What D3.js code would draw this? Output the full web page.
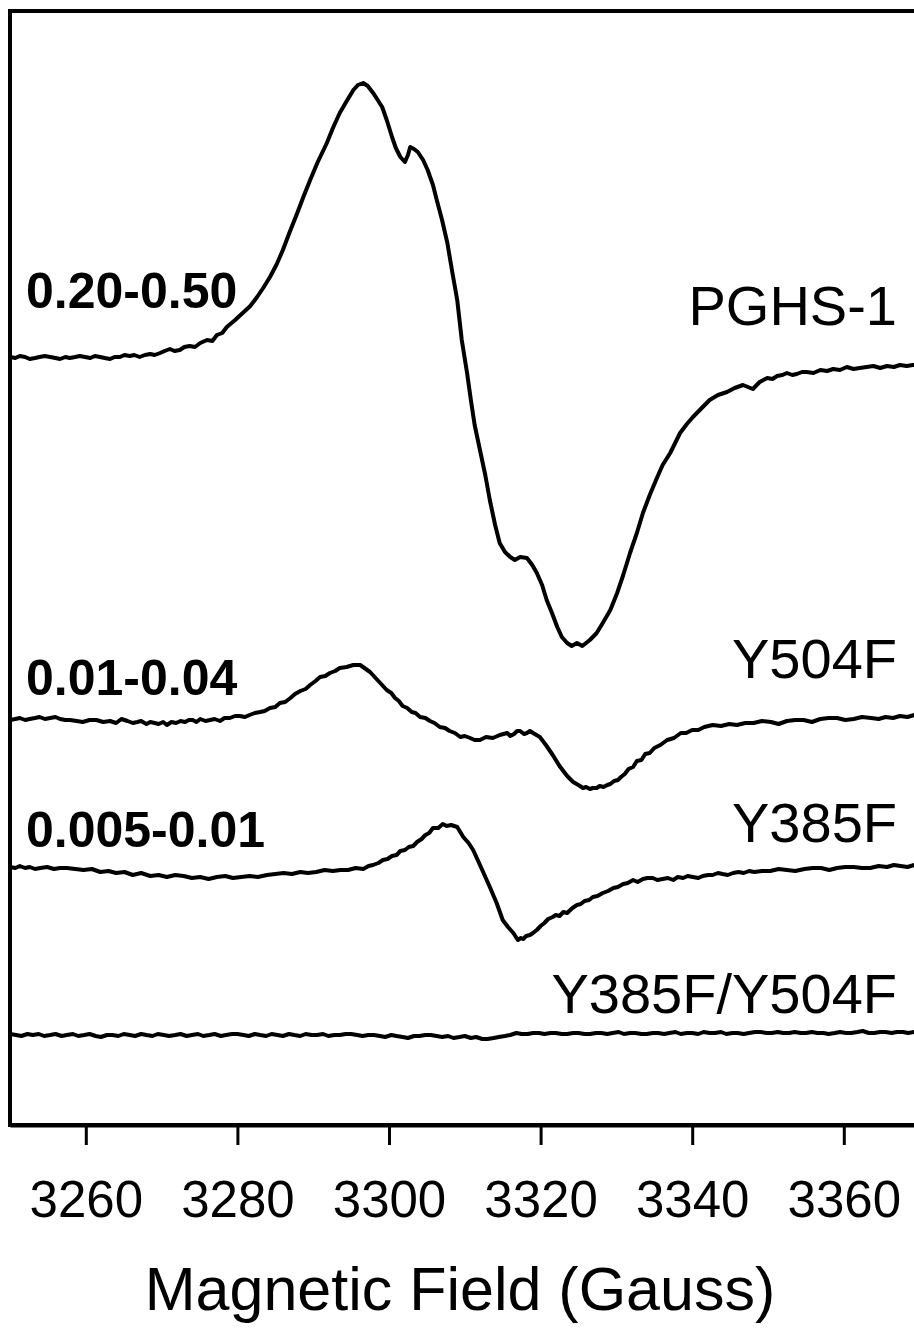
<!DOCTYPE html>
<html>
<head>
<meta charset="utf-8">
<script src="https://cdn.jsdelivr.net/npm/d3@7"></script>
<style>
  body { margin: 0; background: #fff; }
  svg { display: block; }
  text { font-family: "Liberation Sans", Arial, sans-serif; fill: #000; }
</style>
</head>
<body>
<div id="chart"></div>
<script>
// spectra: [field (G), signal (a.u.)]
var pghsData = [
  [3250.0, 0], [3250.7, -1], [3251.3, 1], [3252.0, 0], [3252.6, -2], [3253.3, -1], [3253.9, 0],
  [3254.6, 1], [3255.3, 0], [3256.0, -1], [3256.6, -2], [3257.3, 0], [3257.9, -1], [3258.6, 0],
  [3259.2, 1], [3259.9, 0], [3260.6, -1], [3261.2, 1], [3261.9, 0], [3262.5, -1], [3263.2, -2],
  [3263.8, 0], [3264.5, 0], [3265.1, 2], [3265.8, 1], [3266.4, 2], [3267.1, 0], [3267.8, 2],
  [3268.5, 3], [3269.1, 2], [3269.8, 4], [3270.4, 6], [3271.1, 8], [3271.7, 6], [3272.4, 7],
  [3273.0, 10], [3273.7, 11], [3274.4, 10], [3275.1, 14], [3276.0, 17], [3276.7, 16],
  [3277.3, 22], [3278.0, 24], [3278.6, 30], [3279.7, 37], [3280.7, 44], [3281.7, 51], [3282.6, 60], [3283.4, 69],
  [3284.3, 80], [3285.2, 93], [3286.0, 107], [3286.9, 125], [3287.9, 144], [3288.7, 160],
  [3289.6, 177], [3290.6, 195], [3291.8, 214], [3292.6, 229], [3293.5, 244], [3294.5, 257],
  [3295.3, 267], [3295.9, 272], [3296.6, 274], [3297.2, 271], [3298.0, 263], [3299.1, 250],
  [3299.7, 237], [3300.4, 220], [3300.9, 209], [3301.5, 200], [3302.1, 195], [3302.5, 202],
  [3302.8, 210], [3303.3, 208], [3303.8, 205], [3304.5, 197], [3305.1, 187], [3305.8, 172],
  [3306.3, 157], [3307.0, 137], [3307.7, 114], [3308.3, 87], [3309.0, 57], [3309.6, 17],
  [3310.3, -16], [3310.8, -43], [3311.3, -68], [3312.0, -93], [3312.7, -118], [3313.3, -143],
  [3314.0, -168], [3314.6, -186], [3315.3, -195], [3316.0, -200], [3316.6, -203], [3317.3, -200],
  [3318.2, -201], [3318.9, -208], [3319.5, -216], [3320.2, -228], [3320.8, -243], [3321.5, -256],
  [3322.2, -270], [3322.8, -280], [3323.5, -286], [3324.1, -289], [3324.8, -286], [3325.5, -289],
  [3326.5, -283], [3327.4, -276], [3328.2, -266], [3329.2, -253], [3330.1, -236], [3330.9, -218],
  [3331.8, -196], [3332.7, -176], [3333.5, -156], [3334.4, -138], [3335.4, -120], [3336.1, -108],
  [3337.1, -96], [3338.4, -76], [3339.3, -67], [3340.1, -60], [3341.0, -53], [3342.3, -43],
  [3343.4, -38], [3344.6, -35], [3345.6, -31], [3346.7, -28], [3348.0, -32], [3348.9, -25],
  [3349.9, -21], [3350.6, -22], [3351.2, -19], [3351.9, -18], [3352.5, -16], [3353.2, -18],
  [3353.8, -17], [3354.5, -15], [3355.1, -15], [3356.0, -16], [3356.9, -13], [3357.8, -14],
  [3358.6, -12], [3359.5, -13], [3360.4, -10], [3361.3, -12], [3362.1, -11], [3363.0, -10],
  [3363.9, -9], [3364.8, -11], [3365.7, -9], [3366.6, -10], [3367.4, -8], [3368.3, -9],
  [3369.1, -8], [3370.0, -8]
];

var y504fData = [
  [3250.0, -2], [3250.7, -1], [3251.3, 0], [3252.0, -2], [3252.6, -1], [3253.3, 0], [3253.9, 1],
  [3254.6, -1], [3255.3, 0], [3256.0, 1], [3256.6, -1], [3257.3, -2], [3257.9, -2], [3258.8, -3],
  [3259.6, -4], [3260.5, -2], [3261.4, -2], [3262.3, -4], [3263.2, -3], [3264.0, -5], [3264.7, -1],
  [3265.5, -3], [3266.2, -5], [3266.8, -4], [3267.3, -3], [3268.0, -6], [3268.5, -4], [3269.1, -5],
  [3269.6, -6], [3270.2, -4], [3270.7, -7], [3271.3, -4], [3271.9, -5], [3272.5, -3], [3273.1, -4],
  [3273.6, -2], [3274.1, -2], [3274.6, -4], [3275.1, -1], [3275.8, -3], [3276.4, -2], [3277.0, -1],
  [3277.7, -3], [3278.3, 0], [3279.0, 0], [3279.7, 2], [3280.3, 2], [3281.0, 1], [3281.6, 3],
  [3282.3, 5], [3283.0, 6], [3283.6, 7], [3284.3, 10], [3285.0, 11], [3285.6, 15], [3286.3, 16],
  [3287.0, 20], [3287.6, 24], [3288.3, 27], [3289.0, 29], [3289.6, 33], [3290.3, 37], [3290.9, 41],
  [3291.6, 42], [3292.2, 45], [3292.9, 47], [3293.5, 50], [3294.4, 51], [3295.3, 53], [3296.2, 53],
  [3297.5, 46], [3298.6, 37], [3299.7, 28], [3300.3, 25], [3300.8, 20], [3301.3, 17], [3301.8, 12],
  [3302.4, 10], [3303.0, 6], [3303.5, 5], [3304.1, 1], [3304.8, 0], [3305.4, -3], [3306.0, -5],
  [3306.7, -9], [3307.4, -10], [3308.0, -13], [3308.7, -15], [3309.4, -19], [3310.0, -18],
  [3310.7, -20], [3311.3, -22], [3312.0, -22], [3312.8, -19], [3313.7, -20], [3314.6, -17],
  [3315.6, -15], [3316.0, -18], [3316.5, -16], [3316.9, -13], [3317.3, -13], [3317.8, -16],
  [3318.2, -15], [3318.6, -13], [3319.0, -15], [3319.9, -19], [3320.7, -27], [3321.6, -37],
  [3322.5, -48], [3323.5, -58], [3324.3, -64], [3325.2, -68], [3325.6, -70], [3326.0, -69],
  [3326.5, -71], [3326.9, -70], [3327.4, -70], [3327.8, -68], [3328.3, -69], [3328.8, -67],
  [3329.2, -66], [3329.7, -63], [3330.2, -62], [3330.6, -59], [3331.1, -56], [3331.6, -51],
  [3332.2, -49], [3332.7, -43], [3333.3, -42], [3333.8, -36], [3334.4, -35], [3335.0, -30],
  [3335.8, -27], [3336.7, -22], [3337.6, -20], [3338.5, -15], [3339.2, -15], [3340.0, -12],
  [3340.8, -12], [3341.6, -9], [3342.7, -7], [3343.8, -8], [3344.9, -6], [3345.9, -7],
  [3347.0, -5], [3348.1, -5], [3349.2, -3], [3350.4, -4], [3351.4, -6], [3352.5, -3],
  [3353.6, -2], [3354.7, -2], [3355.8, -4], [3356.9, -1], [3358.0, 0], [3359.1, 0],
  [3360.2, -2], [3361.3, -1], [3362.4, 1], [3363.6, 0], [3364.6, -1], [3365.5, 1],
  [3366.5, 0], [3367.4, 2], [3368.4, 1], [3369.3, 3], [3370.0, 3]
];

var y385fData = [
  [3250.0, 1], [3250.7, 0], [3251.3, 2], [3252.0, 0], [3252.6, 1], [3253.3, -1], [3254.0, 0],
  [3254.9, 1], [3255.8, -1], [3256.6, 0], [3257.5, 0], [3258.6, -1], [3259.7, -2], [3260.8, -1],
  [3261.9, -4], [3263.0, -3], [3264.0, -5], [3265.1, -4], [3266.2, -7], [3267.3, -5], [3268.5, -8],
  [3269.6, -7], [3270.7, -9], [3271.8, -7], [3272.9, -8], [3274.0, -10], [3275.1, -9],
  [3276.2, -11], [3277.3, -9], [3278.4, -8], [3279.4, -10], [3280.5, -9], [3281.6, -8],
  [3282.7, -9], [3283.9, -7], [3285.0, -6], [3286.1, -5], [3287.2, -6], [3288.3, -4],
  [3289.3, -5], [3290.4, -4], [3291.5, -2], [3292.6, -3], [3293.6, -2], [3294.6, -2], [3295.6, 0],
  [3296.6, -1], [3297.3, 2], [3297.9, 3], [3298.6, 5], [3299.2, 8], [3299.8, 9], [3300.4, 12],
  [3301.0, 13], [3301.5, 17], [3302.1, 18], [3302.6, 21], [3303.2, 22], [3303.7, 26], [3304.3, 29],
  [3304.8, 33], [3305.3, 35], [3305.8, 40], [3306.5, 40], [3307.1, 44], [3307.6, 42], [3308.2, 43],
  [3308.6, 42], [3309.0, 41], [3309.8, 31], [3310.5, 25], [3311.1, 18], [3311.7, 8], [3312.3, -2],
  [3313.3, -19], [3314.2, -35], [3315.0, -52], [3315.7, -59], [3316.4, -65], [3317.0, -72],
  [3317.4, -70], [3317.7, -71], [3318.1, -68], [3318.6, -67], [3319.0, -65], [3319.5, -62],
  [3320.0, -58], [3320.5, -55], [3321.0, -51], [3321.6, -49], [3322.0, -47], [3322.5, -48],
  [3323.0, -44], [3323.5, -45], [3324.2, -40], [3324.8, -37], [3325.3, -36], [3325.8, -33],
  [3326.4, -32], [3326.9, -29], [3327.5, -28], [3328.2, -25], [3328.9, -23], [3329.6, -20],
  [3330.2, -19], [3330.9, -16], [3331.5, -15], [3332.2, -12], [3332.8, -14], [3333.5, -11],
  [3334.1, -10], [3334.8, -10], [3335.4, -12], [3336.1, -11], [3336.8, -10], [3337.5, -12],
  [3338.1, -9], [3338.8, -10], [3339.4, -8], [3340.1, -9], [3340.8, -10], [3341.4, -8],
  [3342.1, -7], [3342.7, -7], [3343.4, -5], [3344.0, -6], [3344.7, -7], [3345.4, -5],
  [3346.1, -4], [3346.8, -5], [3347.5, -3], [3348.2, -4], [3349.2, -3], [3350.3, -3],
  [3351.4, -1], [3352.5, -2], [3353.6, -3], [3354.8, -1], [3355.9, 0], [3357.0, 0],
  [3358.1, -2], [3359.1, 0], [3360.2, 1], [3361.3, 1], [3362.4, 0], [3363.5, 0], [3364.6, 2],
  [3365.7, 1], [3366.6, 3], [3367.5, 2], [3368.4, 1], [3369.3, 3], [3370.0, 3]
];

var doubleData = [
  [3250.0, 1], [3250.8, 0], [3251.5, -1], [3252.3, 1], [3253.0, 0], [3253.8, 1], [3254.5, -1],
  [3255.3, 0], [3256.0, 1], [3256.8, -1], [3257.5, 0], [3258.3, 1], [3259.0, -1], [3259.8, 0],
  [3260.5, 1], [3261.3, -1], [3262.0, -2], [3262.8, 0], [3263.5, 0], [3264.3, -1], [3265.0, 1],
  [3265.8, 0], [3266.5, -1], [3267.3, 1], [3268.0, 0], [3268.8, -1], [3269.5, 1], [3270.3, 0],
  [3271.0, -1], [3271.8, 0], [3272.5, 1], [3273.3, -1], [3274.0, 0], [3274.8, 1], [3275.5, -1],
  [3276.3, 0], [3277.0, 1], [3277.8, -1], [3278.5, 0], [3279.3, 1], [3280.0, 1], [3280.8, 0],
  [3281.5, -1], [3282.3, 1], [3283.0, 0], [3283.8, -1], [3284.5, 1], [3285.3, 0], [3286.0, -1],
  [3286.8, 1], [3287.5, 0], [3288.3, -1], [3289.0, 1], [3289.8, 0], [3290.5, 0], [3291.3, 1],
  [3292.0, -1], [3292.8, 0], [3293.5, 0], [3294.3, 1], [3295.0, 1], [3295.8, 0], [3296.5, -1],
  [3297.3, 0], [3298.0, 0], [3298.8, -1], [3299.5, -2], [3300.3, 0], [3301.0, -1], [3301.8, -2],
  [3302.5, -3], [3303.3, -1], [3304.0, -1], [3304.8, 0], [3305.5, 0], [3306.3, -1], [3307.0, -2],
  [3307.8, -1], [3308.5, -3], [3309.3, -2], [3310.0, -1], [3310.8, -3], [3311.5, -2], [3312.3, -4],
  [3313.0, -4], [3313.8, -3], [3314.5, -2], [3315.3, -1], [3316.0, 0], [3316.8, 2], [3317.5, 1],
  [3318.3, 1], [3319.0, 2], [3319.8, 2], [3320.5, 1], [3321.3, 2], [3322.0, 2], [3322.8, 1],
  [3323.5, 1], [3324.3, 2], [3325.0, 2], [3325.8, 1], [3326.5, 1], [3327.3, 2], [3328.0, 2],
  [3328.8, 1], [3329.5, 2], [3330.3, 3], [3331.0, 1], [3331.8, 2], [3332.5, 2], [3333.3, 1],
  [3334.0, 1], [3334.8, 2], [3335.5, 2], [3336.3, 1], [3337.0, 2], [3337.8, 3], [3338.5, 1],
  [3339.3, 2], [3340.0, 2], [3340.8, 1], [3341.5, 3], [3342.3, 2], [3343.0, 2], [3343.8, 3],
  [3344.5, 1], [3345.3, 2], [3346.0, 2], [3346.8, 1], [3347.5, 2], [3348.3, 3], [3349.0, 3],
  [3349.8, 2], [3350.5, 2], [3351.3, 3], [3352.0, 2], [3352.8, 2], [3353.5, 3], [3354.3, 2],
  [3355.0, 2], [3355.8, 3], [3356.5, 2], [3357.3, 2], [3358.0, 1], [3358.8, 2], [3359.5, 3],
  [3360.3, 2], [3361.0, 2], [3361.8, 3], [3362.5, 4], [3363.3, 2], [3364.0, 2], [3364.8, 3],
  [3365.5, 3], [3366.3, 2], [3367.0, 3], [3367.8, 3], [3368.5, 2], [3369.3, 3], [3370.0, 3]
];

var seriesNames = ["PGHS-1", "Y504F", "Y385F", "Y385F/Y504F"];
var seriesOffsets = [768, 407, 257, 90];
var yieldLabels = ["0.20-0.50", "0.01-0.04", "0.005-0.01", ""];
var tickValues = [3260, 3280, 3300, 3320, 3340, 3360];
var fieldDomain = [3250, 3370];
var signalDomain = [0, 1114];

function buildChart(id) {
  var width = 914;
  var height = 1343;

  var margin = { top: 11, left: 10 };
  var innerWidth = 909.6;
  var innerHeight = 1114;

  var svg = d3.select(id).append("svg").attr("width", width).attr("height", height);
  var g = svg.append("g").attr("transform", "translate(" + margin.left + "," + margin.top + ")");

  var x = d3.scaleLinear().domain(fieldDomain).range([0, innerWidth]);
  var y = d3.scaleLinear().domain(signalDomain).range([innerHeight, 0]);

  var allSeries = [pghsData, y504fData, y385fData, doubleData];

  // frame
  g.append("rect")
    .attr("x", 0)
    .attr("y", 0)
    .attr("width", innerWidth)
    .attr("height", innerHeight)
    .attr("fill", "none")
    .attr("stroke", "#000")
    .attr("stroke-width", 4);

  var line = d3
    .line()
    .x(function (d) { return x(d[0]); })
    .y(function (d) { return y(d[1] + d[2]); });

  allSeries.forEach(function (data, i) {
    var pts = data.map(function (d) { return [d[0], d[1], seriesOffsets[i]]; });
    g.append("path")
      .datum(pts)
      .attr("d", line)
      .attr("fill", "none")
      .attr("stroke", "#000")
      .attr("stroke-width", 4)
      .attr("stroke-linejoin", "round")
      .attr("stroke-linecap", "round");
  });

  // x axis
  var xAxis = d3
    .axisBottom(x)
    .tickValues(tickValues)
    .tickFormat(d3.format("d"))
    .tickSizeInner(20)
    .tickSizeOuter(0)
    .tickPadding(36);
  var ax = g.append("g").attr("class", "x-axis").attr("transform", "translate(0," + innerHeight + ")").call(xAxis);
  ax.select(".domain").attr("stroke-width", 4);
  ax.selectAll(".tick line").attr("stroke-width", 3);
  ax.selectAll(".tick text")
    .attr("font-family", "Liberation Sans, Arial, sans-serif")
    .style("font-size", "51px");

  svg.append("text")
    .attr("x", 460)
    .attr("y", 1310)
    .attr("text-anchor", "middle")
    .style("font-size", "61px")
    .text("Magnetic Field (Gauss)");

  // series names, right side
  var nameY = [325, 678, 842, 1013];
  seriesNames.forEach(function (n, i) {
    svg.append("text")
      .attr("x", 897)
      .attr("y", nameY[i])
      .attr("text-anchor", "end")
      .style("font-size", "56px")
      .text(n);
  });

  // yields, left side
  var yieldY = [308, 695, 847];
  yieldLabels.forEach(function (t, i) {
    if (!t) return;
    svg.append("text")
      .attr("x", 26)
      .attr("y", yieldY[i])
      .style("font-size", "50px")
      .style("font-weight", "bold")
      .text(t);
  });
}

buildChart("#chart");
</script>
</body>
</html>
